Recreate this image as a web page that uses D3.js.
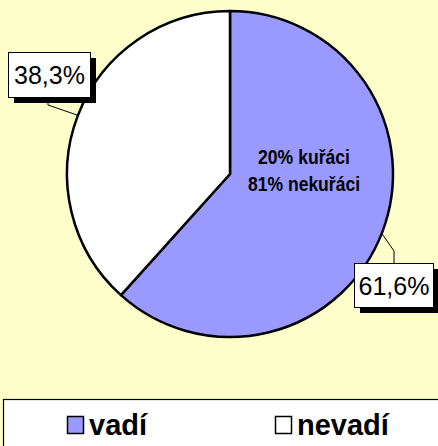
<!DOCTYPE html>
<html><head><meta charset="utf-8">
<script src="https://cdn.jsdelivr.net/npm/d3@7"></script>
<style>html,body{margin:0;padding:0;background:#FFFFCC;}svg{display:block;}</style>
</head><body>
<script>
const categories = ["vadí", "nevadí"];
const values = [61.6, 38.3];
const valueLabels = ["61,6%", "38,3%"];
const colors = ["#9999FF", "#FFFFFF"];
const noteLines = ["20% kuřáci", "81% nekuřáci"];

const W = 438, H = 446;
const svg = d3.select("body").append("svg").attr("width", W).attr("height", H);
svg.append("rect").attr("width", W).attr("height", H).attr("fill", "#FFFFCC");

const cx = 230, cy = 174, r = 163;
const pie = d3.pie().sort(null).value(d => d)(values);
const arc = d3.arc().innerRadius(0).outerRadius(r);
const g = svg.append("g").attr("transform", `translate(${cx},${cy})`);
g.selectAll("path").data(pie).join("path")
  .attr("d", arc).attr("fill", (d, i) => colors[i])
  .attr("stroke", "#000").attr("stroke-width", 2.5).attr("stroke-linejoin", "round");

// center note (narrow bold)
const noteWidths = [92, 112];
noteLines.forEach((t, i) => {
  svg.append("text").attr("x", 304 - noteWidths[i] / 2).attr("y", 164 + i * 27)
    .attr("font-family", "'Liberation Sans',Arial,sans-serif")
    .attr("font-weight", "bold").attr("font-size", 20).attr("fill", "#000")
    .attr("textLength", noteWidths[i]).attr("lengthAdjust", "spacingAndGlyphs").text(t);
});

// data labels with leader lines
const labelBoxes = [
  {x: 354, y: 263, w: 79, h: 44, leader: [[381.5, 233], [394, 251], [394, 263]]},
  {x: 8, y: 52, w: 82, h: 45, leader: [[48, 97], [48, 105], [77, 115]]}
];
pie.forEach((d, i) => {
  const b = labelBoxes[i];
  svg.append("path").attr("d", d3.line()(b.leader)).attr("fill", "none")
    .attr("stroke", "#000").attr("stroke-width", 1);
  svg.append("rect").attr("x", b.x + 6).attr("y", b.y + 6).attr("width", b.w).attr("height", b.h).attr("fill", "#000");
  svg.append("rect").attr("x", b.x + 0.5).attr("y", b.y + 0.5).attr("width", b.w).attr("height", b.h)
    .attr("fill", "#fff").attr("stroke", "#000").attr("stroke-width", 1);
  svg.append("text").attr("x", b.x + b.w / 2 + 0.5).attr("y", b.y + b.h / 2 + 9.5)
    .attr("text-anchor", "middle").attr("font-family", "'Liberation Sans',Arial,sans-serif")
    .attr("font-size", 25).attr("fill", "#000").text(valueLabels[i]);
});

// legend
svg.append("rect").attr("x", 3.5).attr("y", 399.5).attr("width", 440).attr("height", 60)
  .attr("fill", "#fff").attr("stroke", "#000").attr("stroke-width", 1.2);
const legendX = [67, 275];
categories.forEach((c, i) => {
  svg.append("rect").attr("x", legendX[i] + 0.5).attr("y", 416.5).attr("width", 16).attr("height", 17)
    .attr("fill", colors[i]).attr("stroke", "#000").attr("stroke-width", 1.5);
  svg.append("text").attr("x", legendX[i] + 22).attr("y", 435)
    .attr("font-family", "'Liberation Sans',Arial,sans-serif").attr("font-weight", "bold")
    .attr("font-size", 29).attr("fill", "#000").text(c);
});
</script>
</body></html>
